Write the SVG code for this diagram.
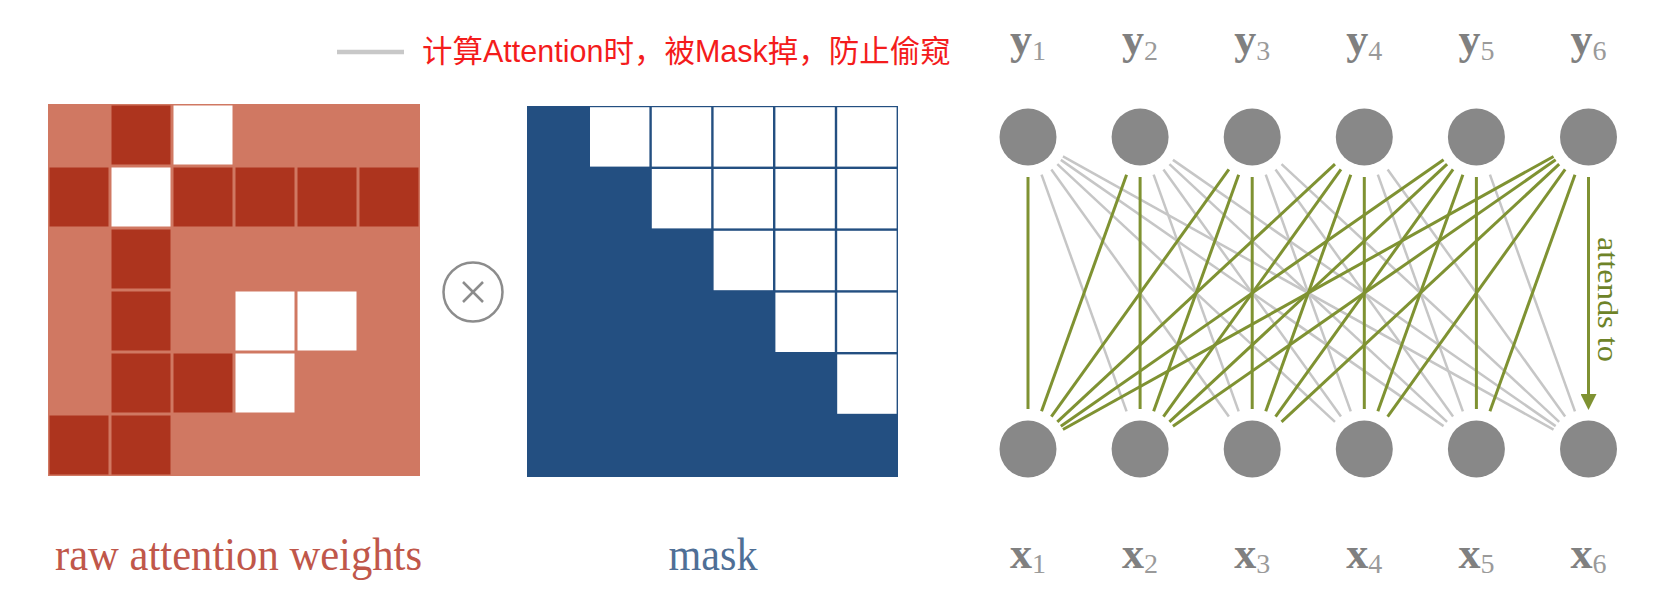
<svg xmlns="http://www.w3.org/2000/svg" width="1668" height="614" viewBox="0 0 1668 614">
<style>
.bg{fill:#ffffff}
.lt{fill:#d07862}
.dk{fill:#ad341e}
.wh{fill:#ffffff}
.bl{fill:#234f81}
.gray{stroke:#c6c6c6;stroke-width:2.5;fill:none}
.grn{stroke:#7f9232;stroke-width:3;fill:none}
.node{fill:#888888}
.lbl{font-family:"Liberation Serif",serif;font-weight:bold;font-size:44px;fill:#808080}
.sub{font-weight:normal;font-size:28px;fill:#9a9a9a}
.cap{font-family:"Liberation Serif",serif;font-size:46px}
</style>
<defs>
<marker id="arr" markerUnits="userSpaceOnUse" markerWidth="16" markerHeight="16" refX="0" refY="7.5" orient="auto" viewBox="0 0 15 15">
<path d="M0,0 L15,7.5 L0,15 z" fill="#7f9232"/>
</marker>
</defs>
<rect class="bg" x="0" y="0" width="1668" height="614"/>

<g id="annotation">
<line x1="337" y1="52" x2="404" y2="52" stroke="#c8c8c8" stroke-width="4.5"/>
<text x="422" y="62" font-family="'Liberation Sans','Noto Sans CJK SC',sans-serif" font-size="30.5" fill="#f41c1c">计算Attention时，被Mask掉，防止偷窥</text>
</g>

<g id="raw-attention-weights">
<rect class="lt" x="48" y="104" width="372" height="372"/>
<rect class="dk" x="111.5" y="105.5" width="59" height="59"/>
<rect class="wh" x="173.5" y="105.5" width="59" height="59"/>
<rect class="dk" x="49.5" y="167.5" width="59" height="59"/>
<rect class="wh" x="111.5" y="167.5" width="59" height="59"/>
<rect class="dk" x="173.5" y="167.5" width="59" height="59"/>
<rect class="dk" x="235.5" y="167.5" width="59" height="59"/>
<rect class="dk" x="297.5" y="167.5" width="59" height="59"/>
<rect class="dk" x="359.5" y="167.5" width="59" height="59"/>
<rect class="dk" x="111.5" y="229.5" width="59" height="59"/>
<rect class="dk" x="111.5" y="291.5" width="59" height="59"/>
<rect class="wh" x="235.5" y="291.5" width="59" height="59"/>
<rect class="wh" x="297.5" y="291.5" width="59" height="59"/>
<rect class="dk" x="111.5" y="353.5" width="59" height="59"/>
<rect class="dk" x="173.5" y="353.5" width="59" height="59"/>
<rect class="wh" x="235.5" y="353.5" width="59" height="59"/>
<rect class="dk" x="49.5" y="415.5" width="59" height="59"/>
<rect class="dk" x="111.5" y="415.5" width="59" height="59"/>
<text class="cap" x="55" y="570" fill="#c0574a" textLength="367" lengthAdjust="spacingAndGlyphs">raw attention weights</text>
</g>

<g id="multiply">
<circle cx="473" cy="292" r="29.5" fill="#ffffff" stroke="#8c8c8c" stroke-width="2.5"/>
<line x1="463" y1="282" x2="483" y2="302" stroke="#8c8c8c" stroke-width="2.5"/>
<line x1="463" y1="302" x2="483" y2="282" stroke="#8c8c8c" stroke-width="2.5"/>
</g>

<g id="mask">
<rect class="bl" x="527" y="106" width="371" height="371"/>
<rect class="wh" x="590" y="107.2" width="59.4" height="59.4"/>
<rect class="wh" x="651.8" y="107.2" width="59.4" height="59.4"/>
<rect class="wh" x="713.6" y="107.2" width="59.4" height="59.4"/>
<rect class="wh" x="775.4" y="107.2" width="59.4" height="59.4"/>
<rect class="wh" x="837.2" y="107.2" width="59.4" height="59.4"/>
<rect class="wh" x="651.8" y="169" width="59.4" height="59.4"/>
<rect class="wh" x="713.6" y="169" width="59.4" height="59.4"/>
<rect class="wh" x="775.4" y="169" width="59.4" height="59.4"/>
<rect class="wh" x="837.2" y="169" width="59.4" height="59.4"/>
<rect class="wh" x="713.6" y="230.8" width="59.4" height="59.4"/>
<rect class="wh" x="775.4" y="230.8" width="59.4" height="59.4"/>
<rect class="wh" x="837.2" y="230.8" width="59.4" height="59.4"/>
<rect class="wh" x="775.4" y="292.6" width="59.4" height="59.4"/>
<rect class="wh" x="837.2" y="292.6" width="59.4" height="59.4"/>
<rect class="wh" x="837.2" y="354.4" width="59.4" height="59.4"/>
<text class="cap" x="713" y="570" fill="#4f6f96" text-anchor="middle" textLength="89" lengthAdjust="spacingAndGlyphs">mask</text>
</g>

<g id="connectors">
<line class="gray" x1="1041.53" y1="174.64" x2="1126.57" y2="411.36"/>
<line class="gray" x1="1051.34" y1="169.48" x2="1228.86" y2="416.52"/>
<line class="gray" x1="1057.32" y1="164.2" x2="1334.98" y2="421.8"/>
<line class="gray" x1="1060.83" y1="159.85" x2="1443.57" y2="426.15"/>
<line class="gray" x1="1062.95" y1="156.45" x2="1553.55" y2="429.55"/>
<line class="gray" x1="1153.63" y1="174.64" x2="1238.67" y2="411.36"/>
<line class="gray" x1="1163.44" y1="169.48" x2="1340.96" y2="416.52"/>
<line class="gray" x1="1169.42" y1="164.2" x2="1447.08" y2="421.8"/>
<line class="gray" x1="1172.93" y1="159.85" x2="1555.67" y2="426.15"/>
<line class="gray" x1="1265.73" y1="174.64" x2="1350.77" y2="411.36"/>
<line class="gray" x1="1275.54" y1="169.48" x2="1453.06" y2="416.52"/>
<line class="gray" x1="1281.52" y1="164.2" x2="1559.18" y2="421.8"/>
<line class="gray" x1="1377.83" y1="174.64" x2="1462.87" y2="411.36"/>
<line class="gray" x1="1387.64" y1="169.48" x2="1565.16" y2="416.52"/>
<line class="gray" x1="1489.93" y1="174.64" x2="1574.97" y2="411.36"/>

<line class="grn" x1="1028" y1="177" x2="1028" y2="409"/>
<line class="grn" x1="1140.1" y1="177" x2="1140.1" y2="409"/>
<line class="grn" x1="1126.57" y1="174.64" x2="1041.53" y2="411.36"/>
<line class="grn" x1="1252.2" y1="177" x2="1252.2" y2="409"/>
<line class="grn" x1="1238.67" y1="174.64" x2="1153.63" y2="411.36"/>
<line class="grn" x1="1228.86" y1="169.48" x2="1051.34" y2="416.52"/>
<line class="grn" x1="1364.3" y1="177" x2="1364.3" y2="409"/>
<line class="grn" x1="1350.77" y1="174.64" x2="1265.73" y2="411.36"/>
<line class="grn" x1="1340.96" y1="169.48" x2="1163.44" y2="416.52"/>
<line class="grn" x1="1334.98" y1="164.2" x2="1057.32" y2="421.8"/>
<line class="grn" x1="1476.4" y1="177" x2="1476.4" y2="409"/>
<line class="grn" x1="1462.87" y1="174.64" x2="1377.83" y2="411.36"/>
<line class="grn" x1="1453.06" y1="169.48" x2="1275.54" y2="416.52"/>
<line class="grn" x1="1447.08" y1="164.2" x2="1169.42" y2="421.8"/>
<line class="grn" x1="1443.57" y1="159.85" x2="1060.83" y2="426.15"/>
<line class="grn" x1="1588.5" y1="177" x2="1588.5" y2="394" marker-end="url(#arr)"/>
<line class="grn" x1="1574.97" y1="174.64" x2="1489.93" y2="411.36"/>
<line class="grn" x1="1565.16" y1="169.48" x2="1387.64" y2="416.52"/>
<line class="grn" x1="1559.18" y1="164.2" x2="1281.52" y2="421.8"/>
<line class="grn" x1="1555.67" y1="159.85" x2="1172.93" y2="426.15"/>
<line class="grn" x1="1553.55" y1="156.45" x2="1062.95" y2="429.55"/>
<text transform="translate(1598,237) rotate(90)" font-family="'Liberation Serif',serif" font-size="30" fill="#6e8328" textLength="125" lengthAdjust="spacingAndGlyphs">attends to</text>
</g>

<g id="node-y1"><circle class="node" cx="1028" cy="137" r="28.5"/><text class="lbl" x="1028" y="53.5" text-anchor="middle">y<tspan class="sub" dy="6">1</tspan></text></g>
<g id="node-y2"><circle class="node" cx="1140.1" cy="137" r="28.5"/><text class="lbl" x="1140.1" y="53.5" text-anchor="middle">y<tspan class="sub" dy="6">2</tspan></text></g>
<g id="node-y3"><circle class="node" cx="1252.2" cy="137" r="28.5"/><text class="lbl" x="1252.2" y="53.5" text-anchor="middle">y<tspan class="sub" dy="6">3</tspan></text></g>
<g id="node-y4"><circle class="node" cx="1364.3" cy="137" r="28.5"/><text class="lbl" x="1364.3" y="53.5" text-anchor="middle">y<tspan class="sub" dy="6">4</tspan></text></g>
<g id="node-y5"><circle class="node" cx="1476.4" cy="137" r="28.5"/><text class="lbl" x="1476.4" y="53.5" text-anchor="middle">y<tspan class="sub" dy="6">5</tspan></text></g>
<g id="node-y6"><circle class="node" cx="1588.5" cy="137" r="28.5"/><text class="lbl" x="1588.5" y="53.5" text-anchor="middle">y<tspan class="sub" dy="6">6</tspan></text></g>

<g id="node-x1"><circle class="node" cx="1028" cy="449" r="28.5"/><text class="lbl" x="1028" y="568" text-anchor="middle">x<tspan class="sub" dy="5">1</tspan></text></g>
<g id="node-x2"><circle class="node" cx="1140.1" cy="449" r="28.5"/><text class="lbl" x="1140.1" y="568" text-anchor="middle">x<tspan class="sub" dy="5">2</tspan></text></g>
<g id="node-x3"><circle class="node" cx="1252.2" cy="449" r="28.5"/><text class="lbl" x="1252.2" y="568" text-anchor="middle">x<tspan class="sub" dy="5">3</tspan></text></g>
<g id="node-x4"><circle class="node" cx="1364.3" cy="449" r="28.5"/><text class="lbl" x="1364.3" y="568" text-anchor="middle">x<tspan class="sub" dy="5">4</tspan></text></g>
<g id="node-x5"><circle class="node" cx="1476.4" cy="449" r="28.5"/><text class="lbl" x="1476.4" y="568" text-anchor="middle">x<tspan class="sub" dy="5">5</tspan></text></g>
<g id="node-x6"><circle class="node" cx="1588.5" cy="449" r="28.5"/><text class="lbl" x="1588.5" y="568" text-anchor="middle">x<tspan class="sub" dy="5">6</tspan></text></g>
</svg>
